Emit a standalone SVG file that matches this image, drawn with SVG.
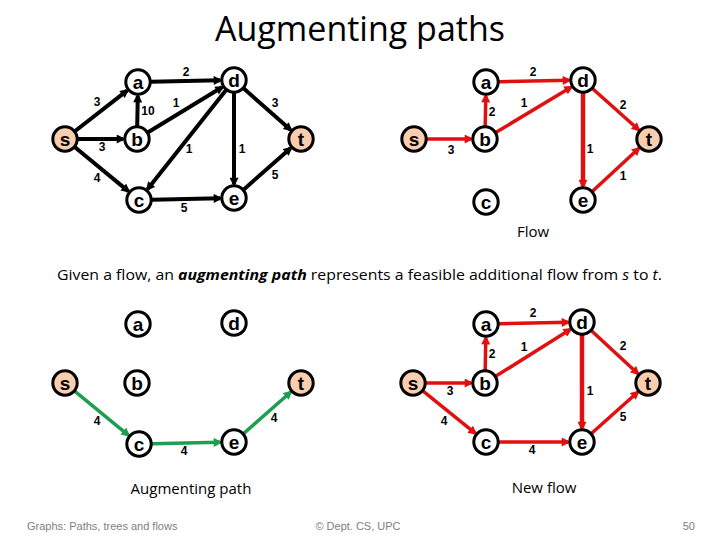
<svg xmlns="http://www.w3.org/2000/svg" width="720" height="540" viewBox="0 0 720 540">
<style>
.n circle{fill:#fff;stroke:#000;stroke-width:3}
.n.st circle{fill:#F9CDAE}
.n text{font-family:"Liberation Sans",Arial,sans-serif;font-weight:bold;font-size:19px;text-anchor:middle;fill:#000}
.k{stroke:#000;stroke-width:4;fill:none;marker-end:url(#ak)}
.r{stroke:#E01010;stroke-width:3.5;fill:none;marker-end:url(#ar)}
.g{stroke:#1E9E50;stroke-width:3.5;fill:none;marker-end:url(#ag)}
.lb{font-family:"Liberation Sans",Arial,sans-serif;font-weight:bold;font-size:12px;text-anchor:middle;fill:#000}
.cap{font-family:"Open Sans","Liberation Sans",sans-serif;font-size:15px;text-anchor:middle;fill:#000}
.ft{font-family:"Liberation Sans",Arial,sans-serif;font-size:11px;fill:#808080}
</style>
<defs>
<marker id="ak" viewBox="0 0 10 10" refX="7" refY="5" markerWidth="10" markerHeight="9" markerUnits="userSpaceOnUse" orient="auto"><path d="M0,0 L10,5 L0,10 z" fill="#000"/></marker>
<marker id="ar" viewBox="0 0 10 10" refX="7" refY="5" markerWidth="10" markerHeight="9" markerUnits="userSpaceOnUse" orient="auto"><path d="M0,0 L10,5 L0,10 z" fill="#E01010"/></marker>
<marker id="ag" viewBox="0 0 10 10" refX="7" refY="5" markerWidth="10" markerHeight="9" markerUnits="userSpaceOnUse" orient="auto"><path d="M0,0 L10,5 L0,10 z" fill="#1E9E50"/></marker>
</defs>
<rect width="720" height="540" fill="#fff"/>
<text x="360" y="41" font-family="Open Sans,Liberation Sans,sans-serif" font-size="34" text-anchor="middle" fill="#000">Augmenting paths</text>

<g id="connectors">
<!-- top-left -->
<line class="k" x1="75.2" y1="131" x2="127" y2="90.6"/>
<line class="k" x1="78" y1="139" x2="123" y2="139"/>
<line class="k" x1="75" y1="147.3" x2="128.2" y2="191.1"/>
<line class="k" x1="137.2" y1="126" x2="137.8" y2="96"/>
<line class="k" x1="151" y1="81.7" x2="220" y2="80.3"/>
<line class="k" x1="148.1" y1="132.2" x2="222" y2="87.3"/>
<line class="k" x1="225.9" y1="90.2" x2="147.7" y2="189"/>
<line class="k" x1="234" y1="93" x2="234" y2="184"/>
<line class="k" x1="243.8" y1="88.6" x2="290.5" y2="129.7"/>
<line class="k" x1="152" y1="199.7" x2="220" y2="198.3"/>
<line class="k" x1="243.8" y1="189.4" x2="290.5" y2="148.3"/>
<!-- top-right -->
<line class="r" x1="427" y1="139" x2="471" y2="139"/>
<line class="r" x1="485.2" y1="126" x2="485.8" y2="96"/>
<line class="r" x1="499" y1="81.7" x2="569" y2="80.3"/>
<line class="r" x1="496.1" y1="132.3" x2="571" y2="87.2"/>
<line class="r" x1="592.7" y1="88.7" x2="638.6" y2="129.7"/>
<line class="r" x1="583" y1="93" x2="583" y2="186" style="stroke-width:4.5"/>
<line class="r" x1="592.5" y1="191.2" x2="638.7" y2="148.5"/>
<!-- bottom-left -->
<line class="g" x1="75" y1="391.3" x2="128.2" y2="435.1"/>
<line class="g" x1="152" y1="443.7" x2="220" y2="442.3"/>
<line class="g" x1="243.8" y1="433.4" x2="290.5" y2="392.3"/>
<!-- bottom-right -->
<line class="r" x1="426" y1="383" x2="471" y2="383"/>
<line class="r" x1="423.1" y1="391.2" x2="475.1" y2="433.2"/>
<line class="r" x1="485.2" y1="370" x2="485.8" y2="338"/>
<line class="r" x1="499" y1="323.7" x2="568" y2="322.3"/>
<line class="r" x1="496" y1="376.1" x2="570.2" y2="329.5"/>
<line class="r" x1="591.5" y1="330.8" x2="637.7" y2="373.5"/>
<line class="r" x1="582" y1="335" x2="582" y2="428" style="stroke-width:4.5"/>
<line class="r" x1="591.7" y1="433.3" x2="637.6" y2="392.3"/>
<line class="r" x1="499" y1="442" x2="568" y2="442"/>
</g>

<g id="edge-labels">
<text class="lb" x="186" y="76">2</text>
<text class="lb" x="97" y="106">3</text>
<text class="lb" x="148" y="115">10</text>
<text class="lb" x="176" y="107">1</text>
<text class="lb" x="275" y="107">3</text>
<text class="lb" x="102" y="151">3</text>
<text class="lb" x="189" y="153">1</text>
<text class="lb" x="242" y="153">1</text>
<text class="lb" x="97" y="182">4</text>
<text class="lb" x="275" y="179">5</text>
<text class="lb" x="184" y="212">5</text>

<text class="lb" x="533" y="76">2</text>
<text class="lb" x="492" y="116">2</text>
<text class="lb" x="524" y="107">1</text>
<text class="lb" x="623" y="109">2</text>
<text class="lb" x="451" y="154">3</text>
<text class="lb" x="590" y="153">1</text>
<text class="lb" x="623" y="180">1</text>

<text class="lb" x="97" y="425">4</text>
<text class="lb" x="184" y="455">4</text>
<text class="lb" x="274" y="422">4</text>

<text class="lb" x="533" y="317">2</text>
<text class="lb" x="492" y="358">2</text>
<text class="lb" x="524" y="351">1</text>
<text class="lb" x="623" y="350">2</text>
<text class="lb" x="450" y="395">3</text>
<text class="lb" x="590" y="395">1</text>
<text class="lb" x="444" y="425">4</text>
<text class="lb" x="623" y="421">5</text>
<text class="lb" x="532" y="454">4</text>
</g>

<!-- top-left nodes -->
<g id="tl-s" class="n st"><circle cx="65" cy="139" r="12.2"/><text x="65" y="145.5">s</text></g>
<g id="tl-a" class="n"><circle cx="138" cy="82" r="12.2"/><text x="138" y="88.5">a</text></g>
<g id="tl-b" class="n"><circle cx="137" cy="139" r="12.2"/><text x="137" y="145.5">b</text></g>
<g id="tl-c" class="n"><circle cx="139" cy="200" r="12.2"/><text x="139" y="206.5">c</text></g>
<g id="tl-d" class="n"><circle cx="234" cy="80" r="12.2"/><text x="234" y="86.5">d</text></g>
<g id="tl-e" class="n"><circle cx="234" cy="198" r="12.2"/><text x="234" y="204.5">e</text></g>
<g id="tl-t" class="n st"><circle cx="301" cy="139" r="12.2"/><text x="301" y="145.5">t</text></g>
<!-- top-right nodes -->
<g id="tr-s" class="n st"><circle cx="414" cy="139" r="12.2"/><text x="414" y="145.5">s</text></g>
<g id="tr-a" class="n"><circle cx="486" cy="82" r="12.2"/><text x="486" y="88.5">a</text></g>
<g id="tr-b" class="n"><circle cx="485" cy="139" r="12.2"/><text x="485" y="145.5">b</text></g>
<g id="tr-c" class="n"><circle cx="486" cy="202" r="12.2"/><text x="486" y="208.5">c</text></g>
<g id="tr-d" class="n"><circle cx="583" cy="80" r="12.2"/><text x="583" y="86.5">d</text></g>
<g id="tr-e" class="n"><circle cx="583" cy="200" r="12.2"/><text x="583" y="206.5">e</text></g>
<g id="tr-t" class="n st"><circle cx="649" cy="139" r="12.2"/><text x="649" y="145.5">t</text></g>
<!-- bottom-left nodes -->
<g id="bl-s" class="n st"><circle cx="65" cy="383" r="12.2"/><text x="65" y="389.5">s</text></g>
<g id="bl-a" class="n"><circle cx="138" cy="324" r="12.2"/><text x="138" y="330.5">a</text></g>
<g id="bl-b" class="n"><circle cx="137" cy="383" r="12.2"/><text x="137" y="389.5">b</text></g>
<g id="bl-c" class="n"><circle cx="139" cy="444" r="12.2"/><text x="139" y="450.5">c</text></g>
<g id="bl-d" class="n"><circle cx="234" cy="323" r="12.2"/><text x="234" y="329.5">d</text></g>
<g id="bl-e" class="n"><circle cx="234" cy="442" r="12.2"/><text x="234" y="448.5">e</text></g>
<g id="bl-t" class="n st"><circle cx="301" cy="383" r="12.2"/><text x="301" y="389.5">t</text></g>
<!-- bottom-right nodes -->
<g id="br-s" class="n st"><circle cx="413" cy="383" r="12.2"/><text x="413" y="389.5">s</text></g>
<g id="br-a" class="n"><circle cx="486" cy="324" r="12.2"/><text x="486" y="330.5">a</text></g>
<g id="br-b" class="n"><circle cx="485" cy="383" r="12.2"/><text x="485" y="389.5">b</text></g>
<g id="br-c" class="n"><circle cx="486" cy="442" r="12.2"/><text x="486" y="448.5">c</text></g>
<g id="br-d" class="n"><circle cx="582" cy="322" r="12.2"/><text x="582" y="328.5">d</text></g>
<g id="br-e" class="n"><circle cx="582" cy="442" r="12.2"/><text x="582" y="448.5">e</text></g>
<g id="br-t" class="n st"><circle cx="648" cy="383" r="12.2"/><text x="648" y="389.5">t</text></g>

<text class="cap" x="533" y="237">Flow</text>
<text class="cap" x="191" y="494">Augmenting path</text>
<text class="cap" x="544" y="493">New flow</text>

<text x="57" y="280" font-family="Open Sans,Liberation Sans,sans-serif" font-size="15" fill="#000" textLength="605" lengthAdjust="spacingAndGlyphs">Given a flow, an <tspan font-weight="bold" font-style="italic">augmenting path</tspan> represents a feasible additional flow from <tspan font-style="italic">s</tspan> to <tspan font-style="italic">t</tspan>.</text>

<text class="ft" x="27" y="530">Graphs: Paths, trees and flows</text>
<text class="ft" x="358" y="530" text-anchor="middle">© Dept. CS, UPC</text>
<text class="ft" x="695" y="530" text-anchor="end">50</text>
</svg>
